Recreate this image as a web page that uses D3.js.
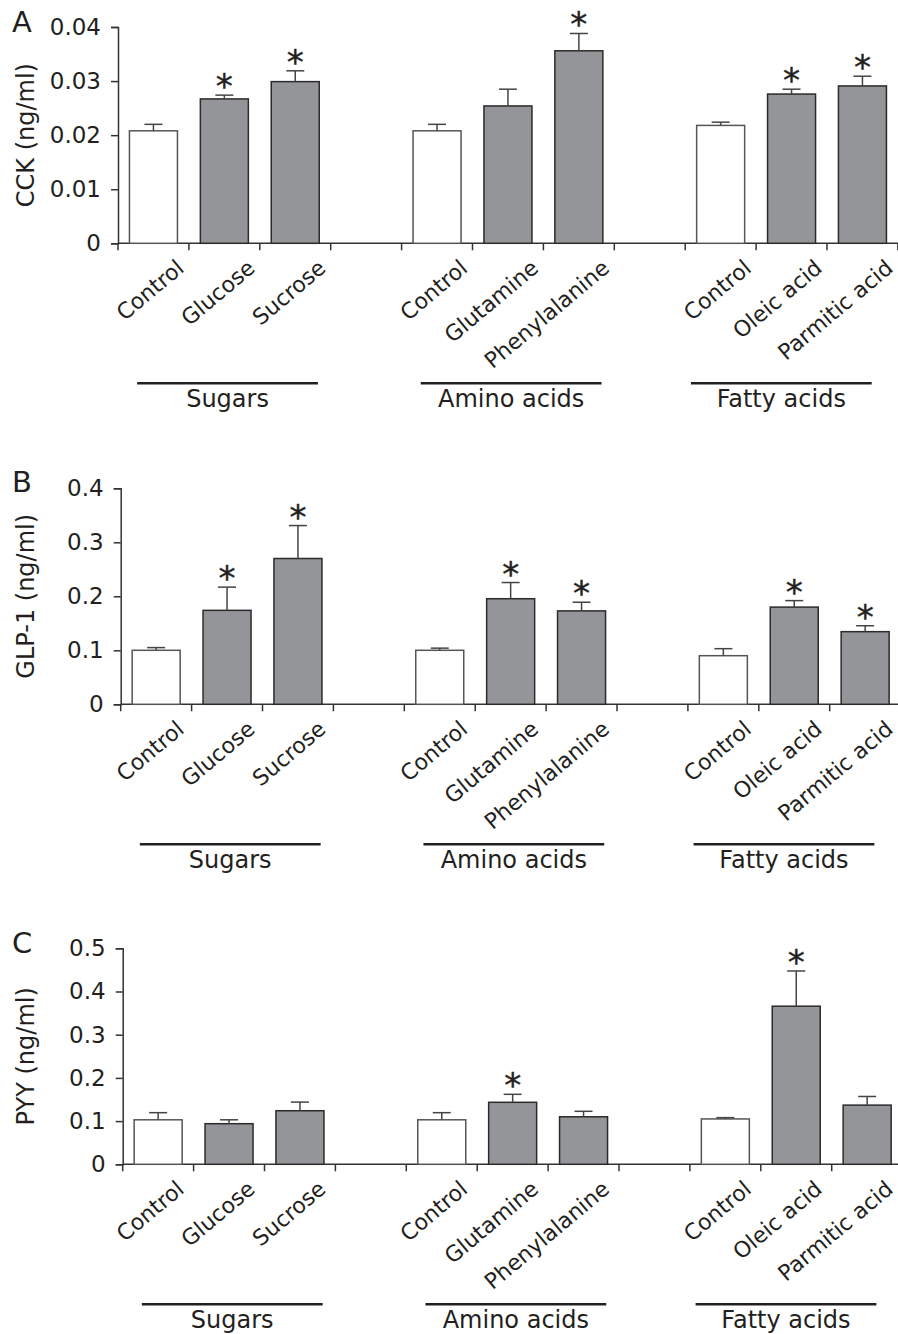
<!DOCTYPE html>
<html>
<head>
<meta charset="utf-8">
<script src="https://cdn.jsdelivr.net/npm/d3@7/dist/d3.min.js"></script>
<style>
  html, body { margin: 0; padding: 0; background: #fff; }
  svg { display: block; }
  text { font-family: "DejaVu Sans", Verdana, sans-serif; fill: #231f20; }
</style>
</head>
<body>
<svg id="chart" width="898" height="1334"></svg>
<script>
// ---------------- data ----------------
const categories = ["Control", "Glucose", "Sucrose",
                    "Control", "Glutamine", "Phenylalanine",
                    "Control", "Oleic acid", "Parmitic acid"];
const categoryGroup = [0, 0, 0, 1, 1, 1, 2, 2, 2];
const groupLabels = ["Sugars", "Amino acids", "Fatty acids"];

const cckMean = [0.0208, 0.0267, 0.0299, 0.0208, 0.0254, 0.0356, 0.0218, 0.0276, 0.0291];
const cckErr  = [0.0012, 0.0007, 0.0020, 0.0012, 0.0031, 0.0032, 0.0006, 0.0009, 0.0018];
const cckSig  = [0, 1, 1, 0, 0, 1, 0, 1, 1];

const glpMean = [0.100, 0.174, 0.270, 0.100, 0.1955, 0.173, 0.090, 0.180, 0.1345];
const glpErr  = [0.005, 0.043, 0.061, 0.004, 0.030, 0.016, 0.013, 0.012, 0.011];
const glpSig  = [0, 1, 1, 0, 1, 1, 0, 1, 1];

const pyyMean = [0.103, 0.094, 0.124, 0.103, 0.1435, 0.110, 0.105, 0.366, 0.137];
const pyyErr  = [0.0165, 0.009, 0.020, 0.0165, 0.0185, 0.0127, 0.003, 0.0815, 0.020];
const pyySig  = [0, 0, 0, 0, 1, 0, 0, 1, 0];

const cckTicks = [0, 0.01, 0.02, 0.03, 0.04];
const cckTickLabels = ["0", "0.01", "0.02", "0.03", "0.04"];
const glpTicks = [0, 0.1, 0.2, 0.3, 0.4];
const glpTickLabels = ["0", "0.1", "0.2", "0.3", "0.4"];
const pyyTicks = [0, 0.1, 0.2, 0.3, 0.4, 0.5];
const pyyTickLabels = ["0", "0.1", "0.2", "0.3", "0.4", "0.5"];

const panelLetters = ["A", "B", "C"];
const yTitles = ["CCK (ng/ml)", "GLP-1 (ng/ml)", "PYY (ng/ml)"];

// ---------------- layout ----------------
const panels = [
  { letter: panelLetters[0], title: yTitles[0], mean: cckMean, err: cckErr, sig: cckSig,
    ticks: cckTicks, tickLabels: cckTickLabels, x0: 118,   yZero: 243.3,  yTop: 27,
    letterY: 32 },
  { letter: panelLetters[1], title: yTitles[1], mean: glpMean, err: glpErr, sig: glpSig,
    ticks: glpTicks, tickLabels: glpTickLabels, x0: 120.7, yZero: 704.3,  yTop: 488.3,
    letterY: 492 },
  { letter: panelLetters[2], title: yTitles[2], mean: pyyMean, err: pyyErr, sig: pyySig,
    ticks: pyyTicks, tickLabels: pyyTickLabels, x0: 122.7, yZero: 1164.3, yTop: 948.3,
    letterY: 953 }
];
const slotW = 70.9;
const nSlots = 11;
const groupLineOffsets = [[0.27, 0.18], [0.27, 0.18], [0.08, 0.37]]; // in slot units
const labelBaseX = 118; // category labels aligned as in panel A

const grayFill = "#939598";
const darkStroke = "#2b2b2b";
const ctrlStroke = "#555";

// slot ids: groups of three separated by one empty slot
const slotIds = [];
for (let s = 0; s < nSlots; s++) slotIds.push("s" + s);
const catSlot = categories.map((c, i) => "s" + (categoryGroup[i] * 4 + (i % 3)));

const svg = d3.select("#chart");

panels.forEach(p => {
  const g = svg.append("g");
  const x = d3.scaleBand()
    .domain(slotIds)
    .range([p.x0, p.x0 + nSlots * slotW])
    .paddingInner(0.323)
    .paddingOuter(0.1615);
  const y = d3.scaleLinear()
    .domain([0, p.ticks[p.ticks.length - 1]])
    .range([p.yZero, p.yTop]);

  // y axis
  const yAxis = d3.axisLeft(y)
    .tickValues(p.ticks)
    .tickFormat((d, i) => p.tickLabels[i])
    .tickSize(7)
    .tickPadding(10);
  const ya = g.append("g").attr("transform", `translate(${p.x0},0)`).call(yAxis);
  ya.select(".domain").attr("stroke", "#333").attr("stroke-width", 1.5);
  ya.selectAll(".tick line").attr("stroke", "#333").attr("stroke-width", 1.5);
  ya.selectAll(".tick text").style("font-size", "23px").attr("fill", "#231f20")
    .style("font-family", '"DejaVu Sans", Verdana, sans-serif');

  // x axis line with ticks at every slot boundary
  const xr = x.range();
  const bounds = d3.range(nSlots + 1).map(k => xr[0] + k * x.step());
  g.append("line")
    .attr("x1", xr[0]).attr("x2", xr[1])
    .attr("y1", p.yZero).attr("y2", p.yZero)
    .attr("stroke", "#333").attr("stroke-width", 1.5);
  g.selectAll(".xtick").data(bounds).join("line")
    .attr("x1", d => d).attr("x2", d => d)
    .attr("y1", p.yZero).attr("y2", p.yZero + 7)
    .attr("stroke", "#333").attr("stroke-width", 1.5);

  // bars
  const data = categories.map((c, i) => ({
    name: c, slot: catSlot[i], v: p.mean[i], e: p.err[i], sig: p.sig[i], ctrl: c === "Control"
  }));
  g.selectAll(".bar").data(data).join("rect")
    .attr("x", d => x(d.slot))
    .attr("width", x.bandwidth())
    .attr("y", d => y(d.v))
    .attr("height", d => y(0) - y(d.v))
    .attr("fill", d => d.ctrl ? "#fff" : grayFill)
    .attr("stroke", d => d.ctrl ? ctrlStroke : darkStroke)
    .attr("stroke-width", 1.5);

  // error bars
  const cx = d => x(d.slot) + x.bandwidth() / 2;
  g.selectAll(".ev").data(data).join("line")
    .attr("x1", cx).attr("x2", cx)
    .attr("y1", d => y(d.v)).attr("y2", d => y(d.v + d.e))
    .attr("stroke", "#444").attr("stroke-width", 1.5);
  g.selectAll(".ec").data(data).join("line")
    .attr("x1", d => cx(d) - 9).attr("x2", d => cx(d) + 9)
    .attr("y1", d => y(d.v + d.e)).attr("y2", d => y(d.v + d.e))
    .attr("stroke", "#444").attr("stroke-width", 1.5);

  // asterisks
  g.selectAll(".ast").data(data.filter(d => d.sig)).join("text")
    .attr("x", cx)
    .attr("y", d => y(d.v + d.e) + 3)
    .attr("text-anchor", "middle")
    .style("font-size", "34px")
    .style("stroke", "#231f20").style("stroke-width", 0.4)
    .text("*");

  // category labels
  const shift = p.x0 - labelBaseX;
  g.selectAll(".cat").data(data).join("text")
    .attr("transform", d => `translate(${cx(d) + 32 - shift},${p.yZero + 27}) rotate(-40)`)
    .attr("text-anchor", "end")
    .style("font-size", "22px")
    .text(d => d.name);

  // group lines and labels
  groupLabels.forEach((gl, gi) => {
    const start = xr[0] + gi * 4 * x.step();
    const x1 = start + groupLineOffsets[gi][0] * x.step();
    const x2 = start + (3 - groupLineOffsets[gi][1]) * x.step();
    g.append("line")
      .attr("x1", x1).attr("x2", x2)
      .attr("y1", p.yZero + 140).attr("y2", p.yZero + 140)
      .attr("stroke", "#231f20").attr("stroke-width", 2.5);
    g.append("text")
      .attr("x", (x1 + x2) / 2)
      .attr("y", p.yZero + 164)
      .attr("text-anchor", "middle")
      .style("font-size", "24px")
      .text(gl);
  });

  // panel letter
  g.append("text").attr("x", 12).attr("y", p.letterY)
    .style("font-size", "29px").text(p.letter);

  // y title
  g.append("text")
    .attr("transform", `translate(34,${(p.yZero + p.yTop) / 2}) rotate(-90)`)
    .attr("text-anchor", "middle")
    .style("font-size", "24px")
    .text(p.title);
});
</script>
</body>
</html>
